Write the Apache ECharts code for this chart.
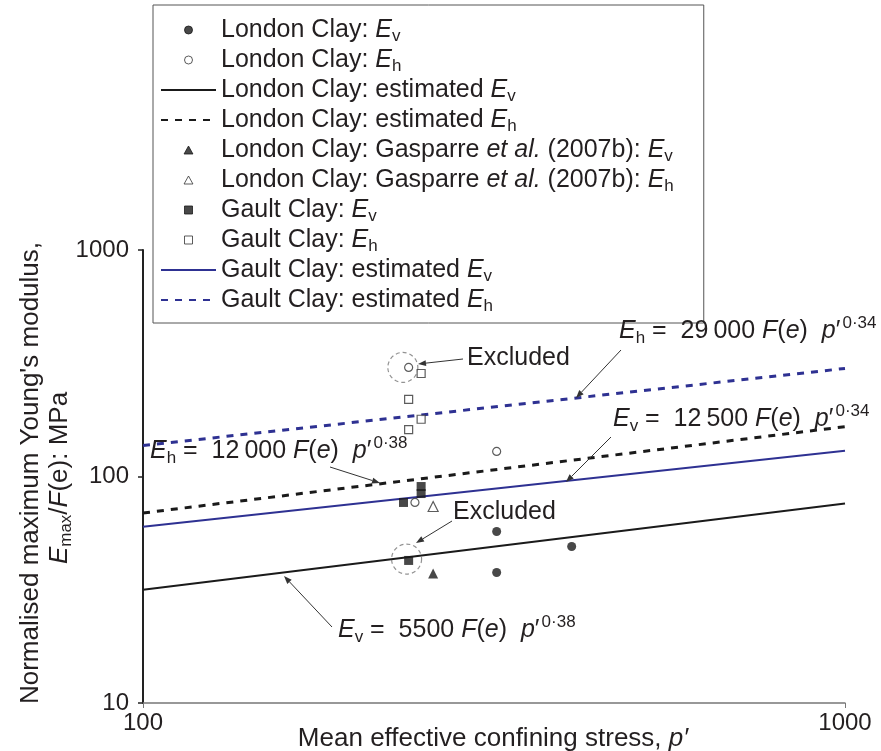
<!DOCTYPE html>
<html>
<head>
<meta charset="utf-8">
<script src="https://cdn.jsdelivr.net/npm/echarts@6/dist/echarts.min.js"></script>
<style>
html,body{margin:0;padding:0;background:#fff;}
#chart{width:881px;height:751px;}
</style>
</head>
<body>
<div id="chart"></div>
<script>
// ---- data ----
const xTicks = [100, 1000];
const yTicks = [10, 100, 1000];

const londonEv   = [[319, 57.2], [319, 37.7], [408, 49.1]];
const londonEh   = [[239, 303], [319, 129], [244, 76.8]];
const gasparreEv = [[259, 37.3]];
const gasparreEh = [[259, 73.7]];
const gaultEv    = [[235, 76.8], [249, 90.3], [249, 84.1], [239, 42.6]];
const gaultEh    = [[249, 285], [239, 219], [249, 179], [239, 161]];

const londonEstEv = [[100, 31.6], [1000, 76.0]];
const londonEstEh = [[100, 69.0], [1000, 166]];
const gaultEstEv  = [[100, 60.0], [1000, 130]];
const gaultEstEh  = [[100, 137], [1000, 300]];

const excludedRings = [[234.5, 303], [237.4, 43.2]];

const seriesNames = [
  'London Clay: Ev', 'London Clay: Eh',
  'London Clay: estimated Ev', 'London Clay: estimated Eh',
  'London Clay: Gasparre et al. (2007b): Ev', 'London Clay: Gasparre et al. (2007b): Eh',
  'Gault Clay: Ev', 'Gault Clay: Eh',
  'Gault Clay: estimated Ev', 'Gault Clay: estimated Eh'
];
const legendLabels = [
  '{n|London Clay: }{i|E}{s|v}',
  '{n|London Clay: }{i|E}{s|h}',
  '{n|London Clay: estimated }{i|E}{s|v}',
  '{n|London Clay: estimated }{i|E}{s|h}',
  '{n|London Clay: Gasparre }{i|et al.}{n| (2007b): }{i|E}{s|v}',
  '{n|London Clay: Gasparre }{i|et al.}{n| (2007b): }{i|E}{s|h}',
  '{n|Gault Clay: }{i|E}{s|v}',
  '{n|Gault Clay: }{i|E}{s|h}',
  '{n|Gault Clay: estimated }{i|E}{s|v}',
  '{n|Gault Clay: estimated }{i|E}{s|h}'
];

// ---- styles ----
const FONT = '"Liberation Sans", Arial, sans-serif';
const TXT = '#231f20';
const BLUE = '#2e3192';
const BLACK = '#1a1a1a';
const TRI_ICON = 'path://M5,0 L10,9 L0,9 Z';
const SQ_ICON = 'path://M0,0 L10,0 L10,10 L0,10 Z';

function richSet(size, subSize, lh, shift) {
  const d = shift || 14;
  return {
    n: {fontSize: size, fontFamily: FONT, lineHeight: lh, color: TXT, fill: TXT},
    i: {fontSize: size, fontFamily: FONT, fontStyle: 'italic', lineHeight: lh, color: TXT, fill: TXT},
    s: {fontSize: subSize, fontFamily: FONT, lineHeight: lh, padding: [d, 0, 0, 0], color: TXT, fill: TXT},
    p: {fontSize: subSize, fontFamily: FONT, lineHeight: lh, padding: [0, 0, d + 2, 0], color: TXT, fill: TXT}
  };
}

const chart = echarts.init(document.getElementById('chart'), null, {renderer: 'canvas'});

const filled = (c) => ({color: c, borderColor: c, borderWidth: 0});
const open = {color: '#ffffff', borderColor: '#333333', borderWidth: 1.2};

function lineSeries(name, data, color, dashed) {
  return {
    name, type: 'line', data, symbol: 'none', showSymbol: false, silent: true,
    lineStyle: {color, width: dashed ? 3 : 2, type: dashed ? [7, 7] : 'solid'},
    itemStyle: {color, opacity: 0}, z: 2
  };
}
function scatterSeries(name, data, symbol, size, style) {
  return {name, type: 'scatter', data, symbol, symbolSize: size, symbolKeepAspect: true, itemStyle: style, z: 4, silent: true};
}

// arrow helper for annotations (pixel space)
function arrow(x1, y1, x2, y2) {
  const a = Math.atan2(y2 - y1, x2 - x1);
  const L = 8, W = 3;
  const bx = x2 - L * Math.cos(a), by = y2 - L * Math.sin(a);
  const px = -Math.sin(a) * W, py = Math.cos(a) * W;
  return [
    {type: 'line', shape: {x1, y1, x2: bx, y2: by}, style: {stroke: '#333', lineWidth: 1}, z: 10},
    {type: 'polygon', shape: {points: [[x2, y2], [bx + px, by + py], [bx - px, by - py]]}, style: {fill: '#333'}, z: 10}
  ];
}
function label(x, y, text, size, subSize) {
  return {
    type: 'text', x, y, z: 11,
    style: {text, rich: richSet(size, subSize || 16, 30, 14), fill: TXT, fontSize: size, fontFamily: FONT, align: 'left', verticalAlign: 'middle'}
  };
}

const legendData = seriesNames.map((name, k) => {
  if (k === 4 || k === 5) return {name, icon: TRI_ICON};
  if (k === 6 || k === 7) return {name, icon: SQ_ICON};
  return {name};
});

const option = {
  animation: false,
  backgroundColor: '#fff',
  grid: {left: 143, right: 36, top: 250, bottom: 48, containLabel: false},
  xAxis: {
    type: 'log', logBase: 10, min: xTicks[0], max: xTicks[1],
    axisLine: {show: true, lineStyle: {color: '#777', width: 1.5}},
    axisTick: {show: true, length: 5, lineStyle: {color: '#777'}},
    minorTick: {show: false},
    splitLine: {show: false},
    axisLabel: {fontSize: 24, fontFamily: FONT, color: TXT, margin: 8, formatter: (v) => String(v)}
  },
  yAxis: {
    type: 'log', logBase: 10, min: yTicks[0], max: yTicks[2],
    axisLine: {show: true, lineStyle: {color: '#222', width: 2}},
    axisTick: {show: true, length: 5, lineStyle: {color: '#222', width: 1.5}},
    minorTick: {show: false},
    splitLine: {show: false},
    axisLabel: {fontSize: 24, fontFamily: FONT, color: TXT, margin: 14, formatter: (v) => String(v)}
  },
  legend: {
    show: true, orient: 'vertical', left: 153, top: 5,
    padding: [10, 30, 8, 7],
    borderColor: '#555', borderWidth: 1, backgroundColor: '#fff',
    itemWidth: 55, itemHeight: 8, itemGap: 0,
    data: legendData,
    itemStyle: {borderWidth: 1},
    formatter: (name) => legendLabels[seriesNames.indexOf(name)],
    textStyle: {fontSize: 25, fontFamily: FONT, color: TXT, lineHeight: 27, rich: richSet(25, 17, 27, 13)}
  },
  series: [
    lineSeries(seriesNames[2], londonEstEv, BLACK, false),
    lineSeries(seriesNames[3], londonEstEh, BLACK, true),
    lineSeries(seriesNames[8], gaultEstEv, BLUE, false),
    lineSeries(seriesNames[9], gaultEstEh, BLUE, true),
    {
      name: 'excluded', type: 'scatter', data: excludedRings, symbol: 'circle', symbolSize: 30, silent: true, z: 3,
      itemStyle: {color: 'rgba(0,0,0,0)', borderColor: '#777', borderWidth: 1.2, borderType: [4, 3]}
    },
    scatterSeries(seriesNames[0], londonEv, 'circle', 9, filled(BLACK)),
    scatterSeries(seriesNames[1], londonEh, 'circle', 8, open),
    scatterSeries(seriesNames[4], gasparreEv, 'triangle', 10, filled(BLACK)),
    scatterSeries(seriesNames[5], gasparreEh, 'triangle', 10, open),
    scatterSeries(seriesNames[6], gaultEv, 'rect', 9, filled(BLACK)),
    scatterSeries(seriesNames[7], gaultEh, 'rect', 8, open)
  ],
  graphic: [
    // axis titles
    {type: 'text', x: 31, y: 473, rotation: Math.PI / 2, z: 11,
     style: {text: "Normalised maximum Young's modulus,", fontSize: 26, fontFamily: FONT, fill: TXT, align: 'center', verticalAlign: 'middle'}},
    {type: 'text', x: 60, y: 478, rotation: Math.PI / 2, z: 11,
     style: {text: '{i|E}{s|max}{n|/}{i|F}{n|(e): MPa}', rich: richSet(26, 17, 30, 13), fill: TXT, fontSize: 26, fontFamily: FONT, align: 'center', verticalAlign: 'middle'}},
    {type: 'text', x: 493, y: 739, z: 11,
     style: {text: '{n|Mean effective confining stress, }{i|p′}', rich: richSet(26, 17, 30, 13), fill: TXT, fontSize: 26, fontFamily: FONT, align: 'center', verticalAlign: 'middle'}},
    // annotations
    label(467, 358, '{n|Excluded}', 25),
    label(453, 512, '{n|Excluded}', 25),
    label(619, 331, '{i|E}{s|h}{n| =  29\u2009000 }{i|F}{n|(}{i|e}{n|)  }{i|p}{n|′\u200A}{p|0·34}', 25, 17),
    label(613, 419, '{i|E}{s|v}{n| =  12\u2009500 }{i|F}{n|(}{i|e}{n|)  }{i|p}{n|′\u200A}{p|0·34}', 25, 17),
    label(150, 451, '{i|E}{s|h}{n| =  12\u2009000 }{i|F}{n|(}{i|e}{n|)  }{i|p}{n|′\u200A}{p|0·38}', 25, 17),
    label(338, 630, '{i|E}{s|v}{n| =  5500 }{i|F}{n|(}{i|e}{n|)  }{i|p}{n|′\u200A}{p|0·38}', 25, 17),
    ...arrow(463, 359, 418, 364),
    ...arrow(452, 521, 416, 543),
    ...arrow(621, 350, 576, 398),
    ...arrow(611, 437, 566, 482),
    ...arrow(330, 467, 380, 483),
    ...arrow(332, 627, 284, 576)
  ]
};
chart.setOption(option);
</script>
</body>
</html>
